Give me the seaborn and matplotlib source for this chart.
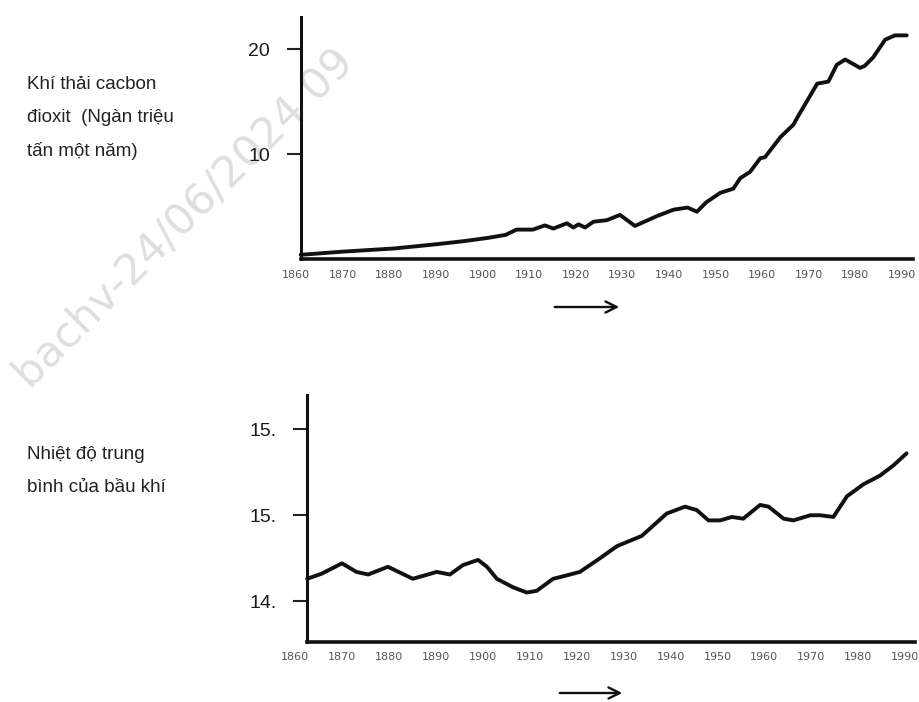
import seaborn as sns
import matplotlib.pyplot as plt

# carbon dioxide emissions (thousand million tonnes per year)
co2_years = [1861, 1870, 1881, 1890, 1896, 1901, 1905, 1907.3, 1910.8, 1913.4, 1915.2,
             1918.1, 1919.5, 1920.6, 1922, 1923.8, 1926.7, 1929.5, 1932.7, 1937.5, 1941,
             1944, 1946, 1948, 1951, 1953.8, 1955.3, 1957.4, 1959.6, 1960.6, 1963.9,
             1966.7, 1967.7, 1971.8, 1974.2, 1976, 1977.8, 1981, 1982, 1983.8, 1986.4,
             1988.5, 1991]
co2_values = [0.4, 0.7, 1.0, 1.4, 1.7, 2.0, 2.3, 2.8, 2.8, 3.2, 2.9,
              3.4, 3.0, 3.3, 3.0, 3.55, 3.7, 4.2, 3.15, 4.1, 4.7,
              4.9, 4.5, 5.4, 6.3, 6.7, 7.7, 8.3, 9.6, 9.7, 11.6,
              12.8, 13.6, 16.7, 16.9, 18.5, 19.0, 18.2, 18.4, 19.2, 20.9,
              21.3, 21.3]

# mean atmospheric temperature
temp_years = [1862.6, 1865.7, 1870.0, 1873.1, 1875.6, 1879.8, 1885.1, 1890.2, 1893.0,
              1895.8, 1899.0, 1900.9, 1903.0, 1906.5, 1909.4, 1911.5, 1915.0, 1917.9,
              1920.7, 1925.0, 1928.6, 1933.9, 1939.2, 1943.1, 1945.6, 1948.1, 1950.6,
              1953.1, 1955.5, 1959.1, 1960.9, 1964.1, 1966.2, 1969.8, 1971.9, 1974.7,
              1977.6, 1981.1, 1984.6, 1987.5, 1990.3]
temp_values = [14.63, 14.66, 14.72, 14.67, 14.655, 14.70, 14.63, 14.67, 14.655,
               14.71, 14.74, 14.70, 14.63, 14.58, 14.55, 14.56, 14.63, 14.65,
               14.67, 14.75, 14.82, 14.88, 15.01, 15.05, 15.03, 14.97, 14.97,
               14.99, 14.98, 15.06, 15.05, 14.98, 14.97, 15.0, 15.0, 14.99,
               15.11, 15.18, 15.23, 15.29, 15.36]

x_ticks = [1860, 1870, 1880, 1890, 1900, 1910, 1920, 1930, 1940, 1950, 1960, 1970, 1980, 1990]
co2_ticks = [10, 20]
co2_tick_labels = ["10", "20"]
temp_ticks = [14.5, 15.0, 15.5]
temp_tick_labels = ["14.", "15.", "15."]

co2_label = "Khí thải cacbon\nđioxit  (Ngàn triệu\ntấn một năm)"
temp_label = "Nhiệt độ trung\nbình của bầu khí"
watermark = "bachv-24/06/2024 09"

sns.set_theme(style="white")
plt.rcParams['font.family'] = ['Liberation Sans', 'DejaVu Sans']

W, H = 920, 702
fig = plt.figure(figsize=(W / 100, H / 100), dpi=100)


def px_axes(left, right, top, bottom):
    return fig.add_axes([left / W, 1 - bottom / H, (right - left) / W, (bottom - top) / H])


def style_axis(ax, spine_x, xmax, yticks, ylabels, label_pad_y):
    ax.set_facecolor("none")
    for s in ["top", "right"]:
        ax.spines[s].set_visible(False)
    ax.spines["left"].set_position(("data", spine_x))
    ax.spines["left"].set_linewidth(2.2)
    ax.spines["bottom"].set_linewidth(2.6)
    ax.spines["left"].set_color("#111111")
    ax.spines["bottom"].set_color("#111111")
    ax.spines["bottom"].set_bounds(spine_x, xmax)
    ax.set_xticks(x_ticks)
    ax.set_xticklabels([str(t) for t in x_ticks], fontsize=8, color="#555555",
                       family="DejaVu Sans")
    ax.tick_params(axis="x", length=0, pad=label_pad_y)
    ax.set_yticks(yticks)
    ax.set_yticklabels(ylabels, fontsize=14, color="#1a1a1a")
    ax.tick_params(axis="y", length=10, width=1.5, color="#222222", pad=12, left=True)
    ax.set_xlabel("")
    ax.set_ylabel("")


# top chart: CO2 emissions
ax1 = px_axes(296, 913, 17, 259)
sns.lineplot(x=co2_years, y=co2_values, ax=ax1, color="#111111", linewidth=2.8)
ax1.lines[0].set_solid_joinstyle("round")
ax1.set_xlim(1860, 1992.35)
ax1.set_ylim(0, 23.05)
style_axis(ax1, 1861, 1992.35, co2_ticks, co2_tick_labels, 8)

# bottom chart: temperature
ax2 = px_axes(295, 915, 395, 642)
sns.lineplot(x=temp_years, y=temp_values, ax=ax2, color="#111111", linewidth=2.8)
ax2.lines[0].set_solid_joinstyle("round")
ax2.set_xlim(1860, 1992.1)
ax2.set_ylim(14.262, 15.70)
style_axis(ax2, 1862.6, 1992.1, temp_ticks, temp_tick_labels, 7)

# side labels
fig.text(27 / W, 1 - 76 / H, co2_label, fontsize=13.5, color="#222222",
         va="top", ha="left", linespacing=2.2)
fig.text(27 / W, 1 - 446 / H, temp_label, fontsize=13.5, color="#222222",
         va="top", ha="left", linespacing=2.2)

# arrows under the x axes
for y, x0, x1 in [(307, 552, 622), (693, 557, 625)]:
    ax1.annotate("", xy=(x1 / W, 1 - y / H), xytext=(x0 / W, 1 - y / H),
                 xycoords="figure fraction", textcoords="figure fraction",
                 annotation_clip=False,
                 arrowprops=dict(arrowstyle="->", lw=1.7, color="#111111",
                                 mutation_scale=20))

# faint watermark
fig.text(30 / W, 1 - 390 / H, watermark, fontsize=31, color="#dedede",
         rotation=45, rotation_mode="anchor", ha="left", va="baseline",
         family="DejaVu Sans", zorder=-1)

plt.savefig("out.png", dpi=100, facecolor="white")
